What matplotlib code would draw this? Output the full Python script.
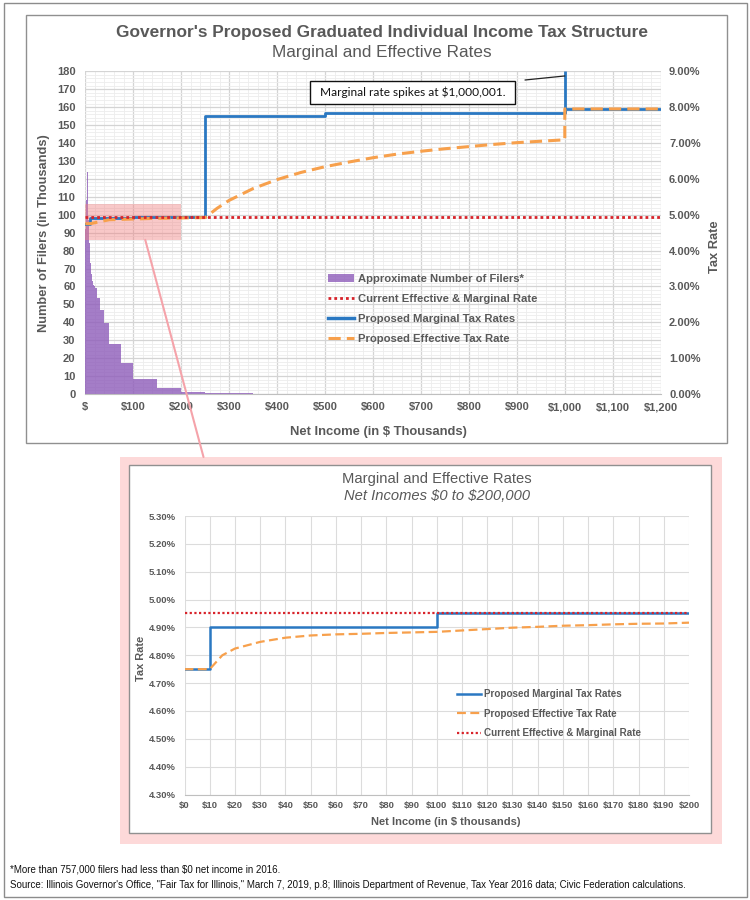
import numpy as np
import matplotlib
matplotlib.use("Agg")
import matplotlib.pyplot as plt
import matplotlib.ticker as mt
import matplotlib.font_manager as fm
from matplotlib.patches import Rectangle, ConnectionPatch, Patch
from matplotlib.lines import Line2D

plt.rcParams['text.parse_math'] = False

_names = {f.name for f in fm.fontManager.ttflist}
NARROW = 'Liberation Sans Narrow' if 'Liberation Sans Narrow' in _names else 'Liberation Sans'
WIDE = 'Liberation Sans'
plt.rcParams['font.family'] = [NARROW, 'DejaVu Sans']

# ---------------- data ----------------
hist_edges = [0, 1, 2, 3, 4, 5, 6, 7, 8, 9, 10, 12, 14, 16, 18, 20, 25, 30, 40, 50,
              75, 100, 150, 200, 250, 300, 350]
hist_filers = [92, 100, 108, 116, 124, 108, 97, 90, 84, 78, 73, 67, 63, 61, 60, 59,
               53.5, 47, 39.5, 28, 17.5, 8.5, 3.5, 1.3, 0.6, 0.3]

income_breaks = [0, 10, 100, 250, 500, 1000, 1200]
marginal_rates = [4.75, 4.90, 4.95, 7.75, 7.85, 7.95, 7.95]
spike_income = 1000
spike_rate = 9.0

current_rate = 4.95

eff_income = [0, 10, 50, 100, 150, 200, 250, 275, 300, 350, 400, 450, 500, 550, 600,
              650, 700, 750, 800, 850, 900, 950, 1000, 1000, 1200]
eff_rate = [4.75, 4.75, 4.86, 4.88, 4.90, 4.91, 4.92, 5.18, 5.40, 5.73, 5.98, 6.18,
            6.34, 6.47, 6.59, 6.69, 6.77, 6.84, 6.90, 6.96, 7.01, 7.05, 7.09, 7.95, 7.95]

inset_income = [0, 10, 12, 15, 20, 30, 40, 50, 60, 70, 80, 90, 100, 110, 120, 130, 140,
                150, 160, 170, 180, 190, 200]
inset_eff = [4.75, 4.75, 4.77, 4.80, 4.824, 4.848, 4.863, 4.871, 4.875, 4.877, 4.880,
             4.882, 4.884, 4.889, 4.894, 4.899, 4.902, 4.906, 4.908, 4.911, 4.913,
             4.914, 4.917]

main_xticks = list(range(0, 1201, 100))
main_xlabels = ['$'] + ['$' + format(v, ',') for v in main_xticks[1:]]
inset_xticks = list(range(0, 201, 10))
inset_xlabels = ['$' + str(v) for v in inset_xticks]
inset_xlim = (0, 200)
inset_ylim = (4.30, 5.30)

title = "Governor's Proposed Graduated Individual Income Tax Structure"
subtitle = "Marginal and Effective Rates"
inset_title = "Marginal and Effective Rates"
inset_subtitle = "Net Incomes $0 to $200,000"
lab_filers = "Approximate Number of Filers*"
lab_current = "Current Effective & Marginal Rate"
lab_marg = "Proposed Marginal Tax Rates"
lab_eff = "Proposed Effective Tax Rate"
annot = "Marginal rate spikes at $1,000,001."
note1 = "*More than 757,000 filers had less than $0 net income in 2016."
note2 = ('Source: Illinois Governor\'s Office, "Fair Tax for Illinois," March 7, 2019, p.8; '
         'Illinois Department of Revenue, Tax Year 2016 data; Civic Federation calculations.')

# ---------------- style ----------------
GRAY = '#595959'
PURPLE = '#8e5cba'
BLUE = '#2a78c2'
ORANGE = '#f7a04c'
RED = '#d8232a'
PINK = '#f08080'

W, H = 750, 900
def fx(x): return x / W
def fy(y): return 1 - y / H

fig = plt.figure(figsize=(7.5, 9), dpi=100)
fig.patch.set_facecolor('white')
_r = fig.canvas.get_renderer()

def fit(text, target_px, size=10, **kw):
    t = fig.text(0, 0, text, fontsize=size, **kw)
    w = t.get_window_extent(_r).width
    t.remove()
    return size * target_px / w

def frame(x0, y0, x1, y1, ec='#8c8c8c', fc='none', lw=1.0, z=-10):
    r = Rectangle((fx(x0), fy(y1)), (x1 - x0) / W, (y1 - y0) / H,
                  transform=fig.transFigure, facecolor=fc, edgecolor=ec, lw=lw, zorder=z)
    fig.add_artist(r)
    return r

frame(4, 3, 746.5, 897)
frame(26, 15, 727.3, 442.7, ec='#909090', fc='white', z=-9)
frame(120, 457, 722, 844, ec='none', fc='#fdd9d9', z=-9)
frame(128.7, 465, 711, 833, ec='#909090', fc='white', z=-8)

# font sizes fitted to the reference text widths
s_title = fit(title, 534, fontweight='bold')
s_sub = fit(subtitle, 220)
s_leg = fit(lab_filers, 166, fontweight='bold')
s_xlab = fit('Net Income (in $ Thousands)', 177, fontweight='bold')
s_ititle = fit(inset_title, 189)
s_isub = fit(inset_subtitle, 186, style='italic')
s_ileg = fit(lab_marg, 137, fontweight='bold')
s_ixlab = fit('Net Income (in $ thousands)', 149, fontweight='bold')
s_annot = fit(annot, 184, family=['Lato', 'DejaVu Sans'])
s_note = min(fit(note1, 273), fit(note2, 687))
s_ylab = fit('Number of Filers (in Thousands)', 199, family=WIDE, fontweight='bold')
s_iylab = fit('Tax Rate', 45, family=WIDE, fontweight='bold')
s_tick = fit('$1,200', 34, fontweight='bold')
s_itick = fit('5.30%', 27, fontweight='bold')

# ---------------- main chart ----------------
ax = fig.add_axes([fx(85.3), fy(394), 575.4 / W, 322.7 / H])
ax.bar(hist_edges[:-1], hist_filers, width=np.diff(hist_edges), align='edge',
       color=PURPLE, alpha=0.8, lw=0, zorder=2)
ax.set_xlim(0, 1200)
ax.set_ylim(0, 180)
ax.set_xticks(main_xticks)
ax.set_xticklabels(main_xlabels)
ax.set_yticks(range(0, 181, 10))
ax.xaxis.set_minor_locator(mt.MultipleLocator(20))
ax.yaxis.set_minor_locator(mt.MultipleLocator(2))
ax.set_axisbelow(True)
ax.grid(which='major', color='#d4d4d4', lw=0.9)
ax.grid(which='minor', color='#ededed', lw=0.6)
ax.tick_params(which='both', length=0)
ax.tick_params(axis='y', pad=7, labelsize=s_tick, labelcolor=GRAY)
ax.tick_params(axis='x', pad=6, labelsize=s_tick, labelcolor=GRAY)
for s in ax.spines.values():
    s.set_visible(False)
ax.spines['bottom'].set_visible(True)
ax.spines['bottom'].set_color('#bfbfbf')
ax.set_ylabel('Number of Filers (in Thousands)', family=WIDE, fontweight='bold',
              fontsize=s_ylab, color=GRAY)
ax.yaxis.set_label_coords(-0.061, 0.5)
ax.set_xlabel('Net Income (in $ Thousands)', fontweight='bold', fontsize=s_xlab, color=GRAY)
ax.xaxis.set_label_coords(0.509, -0.099)

ax2 = ax.twinx()
ax2.set_ylim(0, 9)
ax2.set_yticks(np.arange(0, 9.01, 1))
ax2.yaxis.set_major_formatter(mt.FuncFormatter(lambda v, p: f'{v:.2f}%'))
ax2.tick_params(which='both', length=0)
ax2.tick_params(axis='y', pad=6, labelsize=s_tick, labelcolor=GRAY)
for s in ax2.spines.values():
    s.set_visible(False)
ax2.set_ylabel('Tax Rate', family=WIDE, fontweight='bold', fontsize=s_ylab, color=GRAY)
ax2.yaxis.set_label_coords(1.084, 0.457)

ax2.add_patch(Rectangle((inset_xlim[0], inset_ylim[0]), inset_xlim[1] - inset_xlim[0],
                        inset_ylim[1] - inset_ylim[0], color=PINK, alpha=0.43, lw=0,
                        zorder=1))
ax2.step(income_breaks, marginal_rates, where='post', color=BLUE, lw=2.0, zorder=3)
ax2.plot([spike_income, spike_income], [marginal_rates[4], spike_rate], color=BLUE,
         lw=2.0, zorder=3, solid_capstyle='butt')
ax2.plot(eff_income, eff_rate, color=ORANGE, lw=2.2, dashes=(4, 2), zorder=4)
ax2.axhline(current_rate, color=RED, lw=2.0, ls=(0, (1, 1.1)), zorder=5)

for lbl in ax.get_xticklabels() + ax.get_yticklabels() + ax2.get_yticklabels():
    lbl.set_fontweight('bold')

fpx = s_leg * 100 / 72
handles = [Patch(facecolor=PURPLE, alpha=0.8, lw=0),
           Line2D([], [], color=RED, lw=2.0, ls=(0, (1, 1.1))),
           Line2D([], [], color=BLUE, lw=2.5),
           Line2D([], [], color=ORANGE, lw=2.2, dashes=(4, 2))]
fig.legend(handles, [lab_filers, lab_current, lab_marg, lab_eff], loc='upper left',
           bbox_to_anchor=(fx(328), fy(274)), frameon=False, borderpad=0,
           borderaxespad=0, handlelength=26 / fpx, handleheight=0.7,
           handletextpad=4 / fpx, labelspacing=(20.7 - 0.95 * fpx) / fpx,
           prop={'family': NARROW, 'weight': 'bold', 'size': s_leg}, labelcolor=GRAY)

# annotation box
frame(310, 81, 515, 104, ec='#111111', fc='white', lw=1.0, z=6)
fig.text(fx(412.5), fy(92.5), annot, ha='center', va='center', fontsize=s_annot,
         family=['Lato', 'DejaVu Sans'], color='#111111', zorder=7)
fig.add_artist(ConnectionPatch(xyA=(fx(525), fy(80)), coordsA=fig.transFigure,
                               xyB=(spike_income, 8.87), coordsB=ax2.transData,
                               color='#222222', lw=0.9, zorder=7))

fig.text(fx(382), fy(32), title, ha='center', va='center', fontsize=s_title,
         fontweight='bold', color=GRAY)
fig.text(fx(382), fy(52), subtitle, ha='center', va='center', fontsize=s_sub, color=GRAY)

# zoom connector
fig.add_artist(ConnectionPatch(xyA=(125, inset_ylim[0]), coordsA=ax2.transData,
                               xyB=(fx(203.5), fy(457)), coordsB=fig.transFigure,
                               color='#f5a3aa', lw=1.5, zorder=8))

# ---------------- inset chart ----------------
axi = fig.add_axes([fx(184.5), fy(794.5), 504.5 / W, 278.5 / H])
axi.set_facecolor('white')
axi.set_xlim(*inset_xlim)
axi.set_ylim(*inset_ylim)
axi.set_xticks(inset_xticks)
axi.set_xticklabels(inset_xlabels)
axi.set_yticks(np.arange(4.30, 5.301, 0.10))
axi.yaxis.set_major_formatter(mt.FuncFormatter(lambda v, p: f'{v:.2f}%'))
axi.set_axisbelow(True)
axi.grid(which='major', color='#dcdcdc', lw=0.8)
axi.tick_params(which='both', length=0)
axi.tick_params(axis='y', pad=6, labelsize=s_itick, labelcolor=GRAY)
axi.tick_params(axis='x', pad=5, labelsize=s_itick, labelcolor=GRAY)
for s in axi.spines.values():
    s.set_visible(False)
axi.spines['bottom'].set_visible(True)
axi.spines['bottom'].set_color('#bfbfbf')
for lbl in axi.get_xticklabels() + axi.get_yticklabels():
    lbl.set_fontweight('bold')

axi.step(income_breaks, marginal_rates, where='post', color=BLUE, lw=1.8, zorder=3)
axi.plot(inset_income, inset_eff, color=ORANGE, lw=1.6, dashes=(4, 2), zorder=4)
axi.axhline(current_rate, color=RED, lw=1.6, ls=(0, (1, 1.1)), zorder=5)

axi.set_xlabel('Net Income (in $ thousands)', fontweight='bold', fontsize=s_ixlab, color=GRAY)
axi.xaxis.set_label_coords(0.517, -0.079)
axi.set_ylabel('Tax Rate', family=WIDE, fontweight='bold', fontsize=s_iylab, color=GRAY)
axi.yaxis.set_label_coords(-0.076, 0.487)

ipx = s_ileg * 100 / 72
ih = [Line2D([], [], color=BLUE, lw=1.8),
      Line2D([], [], color=ORANGE, lw=1.6, dashes=(4, 2)),
      Line2D([], [], color=RED, lw=1.6, ls=(0, (1, 1.1)))]
fig.legend(ih, [lab_marg, lab_eff, lab_current], loc='upper left',
           bbox_to_anchor=(fx(456.6), fy(689)), frameon=False, borderpad=0,
           borderaxespad=0, handlelength=24 / ipx, handletextpad=3 / ipx,
           labelspacing=(19 - 0.95 * ipx) / ipx,
           prop={'family': NARROW, 'weight': 'bold', 'size': s_ileg}, labelcolor=GRAY)

fig.text(fx(437), fy(479), inset_title, ha='center', va='center', fontsize=s_ititle, color=GRAY)
fig.text(fx(437), fy(496), inset_subtitle, ha='center', va='center', fontsize=s_isub,
         style='italic', color=GRAY)

# ---------------- footnotes ----------------
fig.text(fx(10), fy(869), note1, ha='left', va='center', fontsize=s_note, color='#111111')
fig.text(fx(10), fy(885), note2, ha='left', va='center', fontsize=s_note, color='#111111')

fig.savefig('out.png', dpi=100)
